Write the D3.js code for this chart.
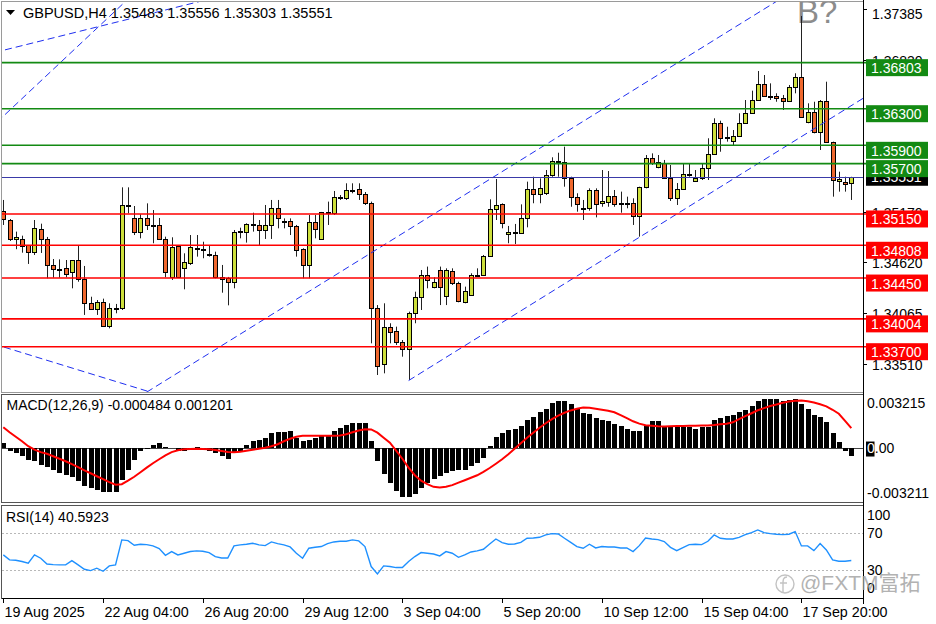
<!DOCTYPE html>
<html><head><meta charset="utf-8">
<script src="https://cdn.jsdelivr.net/npm/d3@7"></script>
<style>body{margin:0;background:#fff}svg{display:block;font-size:14px}text{font-family:"Liberation Sans",Arial,sans-serif}</style>
</head><body><svg id="c" width="936" height="624"></svg>
<script>
// ---------- DATA ----------
const symbolTitle = "GBPUSD,H4";
const headerOHLC = ["1.35483","1.35556","1.35303","1.35551"];
const dateTickBars = [0,16,32,48,64,80,96,112,128];
const dateLabels = ["19 Aug 2025","22 Aug 04:00","26 Aug 20:00","29 Aug 12:00","3 Sep 04:00","5 Sep 20:00","10 Sep 12:00","15 Sep 04:00","17 Sep 20:00"];
const priceTicks = [1.37385,1.36830,1.35170,1.34620,1.34065,1.33510];
const resistanceLevels = [1.36803,1.36300,1.35900,1.35700];
const supportLevels = [1.35150,1.34808,1.34450,1.34004,1.33700];
const lastPrice = 1.35551;
const macdTickLabels = ["0.003215","0.00","-0.003211"];
const rsiTicks = [100,70,30,0];
const rsiLevels = [70,30];

const opens = [1.35182,1.35084,1.34874,1.34877,1.34808,1.34732,1.34989,1.34877,1.34596,1.34549,
1.34560,1.34513,1.34647,1.34443,1.34181,1.34109,1.34188,1.33926,1.34123,1.34119,
1.35248,1.35102,1.34957,1.35102,1.35030,1.35030,1.34873,1.34465,1.34801,1.34556,
1.34618,1.34775,1.34768,1.34708,1.34699,1.34465,1.34451,1.34404,1.34957,1.34957,
1.35041,1.35033,1.34975,1.35030,1.35212,1.35066,1.35073,1.35019,1.34764,1.34589,
1.35066,1.34873,1.35168,1.35164,1.35328,1.35321,1.35412,1.35420,1.35368,1.35267,
1.34119,1.33508,1.33919,1.33868,1.33748,1.33675,1.34065,1.34240,1.34484,1.34349,
1.34538,1.34254,1.34530,1.34393,1.34192,1.34265,1.34484,1.34484,1.34691,1.35201,
1.35255,1.34928,1.34950,1.34946,1.35109,1.35420,1.35365,1.35382,1.35575,1.35732,
1.35721,1.35540,1.35332,1.35212,1.35212,1.35412,1.35267,1.35284,1.35346,1.35267,
1.35267,1.35267,1.35131,1.35441,1.35765,1.35666,1.35712,1.35546,1.35319,1.35420,
1.35590,1.35513,1.35540,1.35656,1.35805,1.36141,1.35988,1.35950,1.36002,1.36141,
1.36250,1.36395,1.36567,1.36442,1.36435,1.36414,1.36387,1.36534,1.36643,1.36151,
1.36261,1.36049,1.36387,1.35933,1.35513,1.35496,1.35483];
const highs = [1.35303,1.35095,1.34957,1.34913,1.34811,1.35084,1.35044,1.34899,1.34658,1.34654,
1.34647,1.34647,1.34811,1.34582,1.34246,1.34210,1.34225,1.34174,1.34167,1.35441,
1.35441,1.35237,1.35146,1.35266,1.35193,1.35106,1.34902,1.34895,1.34811,1.34720,
1.34920,1.34920,1.34847,1.34811,1.34738,1.34593,1.34462,1.34975,1.35000,1.35048,
1.35164,1.35084,1.35248,1.35303,1.35303,1.35102,1.35102,1.35030,1.34775,1.35139,
1.35139,1.35172,1.35285,1.35401,1.35357,1.35485,1.35485,1.35485,1.35390,1.35285,
1.34155,1.34174,1.33956,1.33919,1.33773,1.34083,1.34301,1.34538,1.34575,1.34458,
1.34575,1.34556,1.34556,1.34410,1.34356,1.34502,1.34556,1.34702,1.35310,1.35532,
1.35266,1.35019,1.35041,1.35255,1.35503,1.35557,1.35539,1.35630,1.35769,1.35819,
1.35885,1.35557,1.35376,1.35303,1.35430,1.35430,1.35630,1.35619,1.35412,1.35394,
1.35339,1.35321,1.35448,1.35794,1.35812,1.35794,1.35740,1.35685,1.35488,1.35696,
1.35704,1.35630,1.35704,1.35977,1.36195,1.36169,1.36103,1.36067,1.36250,1.36395,
1.36497,1.36712,1.36668,1.36577,1.36468,1.36450,1.36559,1.36687,1.37313,1.36359,
1.36376,1.36395,1.36595,1.35940,1.35612,1.35557,1.35556];
const lows = [1.35030,1.34855,1.34765,1.34727,1.34604,1.34702,1.34724,1.34447,1.34454,1.34454,
1.34458,1.34338,1.34410,1.34047,1.34101,1.34047,1.33915,1.33901,1.34065,1.34101,
1.35157,1.34920,1.34884,1.34975,1.34830,1.34866,1.34458,1.34429,1.34451,1.34327,
1.34593,1.34684,1.34666,1.34684,1.34447,1.34290,1.34152,1.34338,1.34884,1.34837,
1.34957,1.34811,1.34877,1.34877,1.34993,1.34993,1.34920,1.34684,1.34447,1.34447,
1.34884,1.34871,1.35030,1.35139,1.35303,1.35303,1.35376,1.35303,1.35248,1.33737,
1.33391,1.33409,1.33737,1.33719,1.33591,1.33336,1.33956,1.34101,1.34338,1.34338,
1.34155,1.34155,1.34374,1.34185,1.34174,1.34254,1.34472,1.34472,1.34680,1.35084,
1.34993,1.34830,1.34822,1.34946,1.35004,1.35267,1.35267,1.35357,1.35557,1.35557,
1.35448,1.35229,1.35175,1.35084,1.35186,1.35113,1.35229,1.35229,1.35229,1.35164,
1.35212,1.35030,1.34902,1.35430,1.35685,1.35649,1.35540,1.35292,1.35248,1.35412,
1.35557,1.35503,1.35521,1.35521,1.35794,1.35830,1.35940,1.35903,1.35994,1.36133,
1.36242,1.36387,1.36431,1.36395,1.36376,1.36286,1.36376,1.36468,1.36213,1.36141,
1.36031,1.35849,1.35929,1.35339,1.35394,1.35394,1.35303];
const closes = [1.35092,1.34880,1.34899,1.34801,1.34732,1.34994,1.34877,1.34596,1.34546,1.34543,
1.34498,1.34647,1.34443,1.34181,1.34109,1.34188,1.33926,1.34123,1.34119,1.35248,
1.35252,1.34950,1.35102,1.35030,1.35026,1.34873,1.34513,1.34793,1.34465,1.34625,
1.34786,1.34764,1.34764,1.34705,1.34465,1.34437,1.34404,1.34957,1.34961,1.35041,
1.35037,1.34975,1.35030,1.35212,1.35102,1.35068,1.35019,1.34757,1.34589,1.35066,
1.34983,1.35168,1.35172,1.35339,1.35332,1.35412,1.35409,1.35368,1.35267,1.34119,
1.33493,1.33919,1.33857,1.33748,1.33675,1.34065,1.34240,1.34484,1.34429,1.34410,
1.34349,1.34538,1.34393,1.34199,1.34312,1.34484,1.34480,1.34691,1.35204,1.35248,
1.35048,1.34950,1.34953,1.35109,1.35420,1.35365,1.35430,1.35575,1.35732,1.35734,
1.35540,1.35332,1.35255,1.35210,1.35412,1.35259,1.35295,1.35346,1.35259,1.35264,
1.35264,1.35131,1.35441,1.35765,1.35710,1.35718,1.35546,1.35319,1.35420,1.35587,
1.35588,1.35540,1.35656,1.35805,1.36141,1.35977,1.35985,1.36002,1.36147,1.36256,
1.36395,1.36567,1.36442,1.36440,1.36414,1.36387,1.36534,1.36643,1.36213,1.36261,
1.36049,1.36387,1.35940,1.35521,1.35532,1.35474,1.35551];

const macdHist = [0.00030,-0.00020,-0.00030,-0.00050,-0.00071,-0.00081,-0.00101,-0.00115,-0.00135,-0.00152,
-0.00162,-0.00176,-0.00202,-0.00232,-0.00242,-0.00253,-0.00268,-0.00268,-0.00268,-0.00192,
-0.00132,-0.00071,-0.00020,-0.00006,0.00020,0.00030,0.00006,-0.00002,-0.00020,-0.00020,
-0.00014,0.00006,-0.00010,-0.00020,-0.00030,-0.00050,-0.00067,-0.00030,-0.00020,0.00020,
0.00041,0.00050,0.00061,0.00091,0.00097,0.00097,0.00101,0.00061,0.00040,0.00050,
0.00061,0.00070,0.00070,0.00105,0.00121,0.00137,0.00149,0.00152,0.00149,0.00044,
-0.00081,-0.00156,-0.00210,-0.00263,-0.00297,-0.00297,-0.00277,-0.00242,-0.00212,-0.00186,
-0.00168,-0.00152,-0.00138,-0.00132,-0.00132,-0.00107,-0.00091,-0.00061,0.00014,0.00064,
0.00091,0.00111,0.00117,0.00131,0.00171,0.00191,0.00218,0.00236,0.00273,0.00288,
0.00287,0.00267,0.00238,0.00212,0.00206,0.00185,0.00171,0.00161,0.00145,0.00131,
0.00117,0.00101,0.00105,0.00141,0.00165,0.00161,0.00131,0.00125,0.00125,0.00125,
0.00125,0.00117,0.00125,0.00125,0.00171,0.00185,0.00196,0.00202,0.00216,0.00232,
0.00256,0.00287,0.00297,0.00297,0.00297,0.00285,0.00293,0.00297,0.00267,0.00239,
0.00202,0.00191,0.00155,0.00091,0.00034,-0.00021,-0.000484];
const macdSignal = [0.00126,0.00096,0.00068,0.00041,0.00011,-0.00010,-0.00025,-0.00035,-0.00050,-0.00065,
-0.00080,-0.00098,-0.00116,-0.00135,-0.00153,-0.00171,-0.00189,-0.00207,-0.00222,-0.00219,
-0.00198,-0.00174,-0.00147,-0.00119,-0.00092,-0.00068,-0.00044,-0.00025,-0.00013,-0.00008,
-0.00006,-0.00004,-0.00006,-0.00008,-0.00012,-0.00018,-0.00024,-0.00025,-0.00022,-0.00016,
-0.00010,-0.00004,0.00002,0.00011,0.00023,0.00041,0.00056,0.00068,0.00075,0.00075,
0.00075,0.00075,0.00075,0.00075,0.00076,0.00084,0.00096,0.00106,0.00114,0.00113,
0.00093,0.00062,0.00032,-0.00016,-0.00065,-0.00119,-0.00165,-0.00198,-0.00219,-0.00235,
-0.00239,-0.00235,-0.00225,-0.00210,-0.00195,-0.00180,-0.00165,-0.00144,-0.00121,-0.00095,
-0.00068,-0.00038,-0.00004,0.00029,0.00062,0.00093,0.00123,0.00150,0.00175,0.00196,
0.00214,0.00228,0.00238,0.00246,0.00244,0.00238,0.00232,0.00226,0.00217,0.00199,
0.00181,0.00162,0.00148,0.00138,0.00135,0.00132,0.00131,0.00132,0.00133,0.00134,
0.00135,0.00135,0.00136,0.00137,0.00140,0.00144,0.00147,0.00156,0.00175,0.00193,
0.00211,0.00229,0.00242,0.00255,0.00264,0.00275,0.00282,0.00287,0.00288,0.00284,
0.00276,0.00265,0.00253,0.00232,0.00208,0.00165,0.001201];
const rsiValues = [46.6,41.2,40.8,39.4,37.6,46.6,43.0,36.8,36.1,35.8,
35.8,40.4,35.8,31.1,29.6,32.2,28.9,34.7,35.8,62.8,
62.0,57.0,58.1,57.7,56.3,53.4,46.2,50.2,46.6,48.4,
50.2,50.9,50.5,49.1,44.8,43.3,43.3,56.3,57.4,58.1,
59.2,57.4,56.6,60.6,58.8,57.4,55.2,48.4,43.0,53.8,
54.8,55.6,58.8,60.6,61.3,61.3,62.8,61.7,55.6,34.0,
26.0,34.7,34.0,32.9,32.9,39.4,44.8,49.1,48.4,47.6,
45.5,50.2,48.4,44.0,46.6,49.8,50.9,52.7,58.4,63.8,
59.9,58.1,58.4,60.2,64.6,64.9,65.6,68.2,69.6,69.2,
64.6,60.2,55.6,53.8,58.1,54.1,55.6,55.2,55.2,54.1,
54.1,50.2,56.6,64.9,63.8,63.1,61.0,54.8,51.2,54.5,
57.7,58.1,57.7,61.3,68.2,64.6,63.8,63.8,65.6,68.5,
70.7,73.6,70.7,69.6,68.9,68.5,68.9,71.8,56.3,56.3,
51.2,58.8,52.0,41.2,39.7,39.7,40.5923];
const macdTitle = "MACD(12,26,9) -0.000484 0.001201";
const rsiTitle = "RSI(14) 40.5923";
// trend lines: two anchors [bar index, price]
const trendA = [[0,1.36218],[16,1.37242]];
const trendB = [[0,1.36938],[16,1.37209]];
const trendC = [[32,1.33584],[112,1.36965]];
const trendD = [[65,1.33330],[128,1.35995]];
const trendE = [[0,1.33698],[16,1.33363]];
const watermark = "@FXTM富拓";
const annotation = "B?";

// ---------- LAYOUT ----------
const svg = d3.select("#c");
const L = 2, R = 863.5;
const mainTop = 2, mainBot = 392;
const macdTop = 395, macdBot = 502;
const rsiTop = 505.5, rsiBot = 598;
const n = opens.length;
const x = d3.scaleLinear().domain([0, n-1]).range([3.3, 851.3]);
const y = d3.scaleLinear().domain([1.3370, 1.3630]).range([346.7, 108.7]);
const yM = d3.scaleLinear().domain([-0.003211, 0.003215]).range([501, 395]);
const yR = d3.scaleLinear().domain([0, 100]).range([rsiBot, rsiTop]);
const bullC = "#cddf3c", bearC = "#ef682e";
const greenC = "#138a13", redC = "#ff0000";

svg.append("rect").attr("width",936).attr("height",624).attr("fill","#fff");
const defs = svg.append("defs");
defs.append("clipPath").attr("id","clipMain").append("rect").attr("x",L).attr("y",mainTop).attr("width",R-0.5-L).attr("height",mainBot-mainTop);
defs.append("clipPath").attr("id","clipMacd").append("rect").attr("x",L).attr("y",macdTop).attr("width",R-0.5-L).attr("height",macdBot-macdTop);
defs.append("clipPath").attr("id","clipRsi").append("rect").attr("x",L).attr("y",rsiTop).attr("width",R-0.5-L).attr("height",rsiBot-rsiTop);

const bars = d3.range(n).map(i => ({i, o:opens[i], h:highs[i], l:lows[i], c:closes[i]}));
const px = i => Math.round(x(i)) + 0.5;

// ---------- MAIN PANEL ----------
const gMain = svg.append("g").attr("clip-path","url(#clipMain)");
gMain.append("text").attr("x",797).attr("y",23).style("font-size","33px").attr("fill","#8c8c8c").text(annotation);
gMain.selectAll("line.wick").data(bars).join("line").attr("class","wick")
  .attr("x1",d=>px(d.i)).attr("x2",d=>px(d.i))
  .attr("y1",d=>y(d.h)).attr("y2",d=>y(d.l)).attr("stroke","#222").attr("stroke-width",1);
gMain.selectAll("rect.body").data(bars).join("rect").attr("class","body")
  .attr("x",d=>px(d.i)-2).attr("width",4)
  .attr("y",d=>Math.round(y(Math.max(d.o,d.c)))+0.5)
  .attr("height",d=>Math.max(1, Math.round(y(Math.min(d.o,d.c))) - Math.round(y(Math.max(d.o,d.c)))))
  .attr("fill",d=>d.c>=d.o?bullC:bearC).attr("stroke","#000").attr("stroke-width",1)
  .attr("shape-rendering","crispEdges");

function extLine(anchors, ray){
  const [a,b] = anchors; const s = (b[1]-a[1])/(b[0]-a[0]);
  const i0 = ray==="right" ? a[0] : -10, i1 = n+10;
  return [[x(i0), y(a[1]+s*(i0-a[0]))],[x(i1), y(a[1]+s*(i1-a[0]))]];
}
[[trendA,"both"],[trendB,"both"],[trendC,"both"],[trendD,"right"],[trendE,"both"]].forEach(([t,r])=>{
  const p = extLine(t,r);
  gMain.append("line").attr("x1",p[0][0]).attr("y1",p[0][1]).attr("x2",p[1][0]).attr("y2",p[1][1])
    .attr("stroke","#1f2ff0").attr("stroke-width",1).attr("stroke-dasharray","7,4");
});
svg.append("line").attr("x1",L).attr("x2",R).attr("y1",Math.round(y(lastPrice))+0.5).attr("y2",Math.round(y(lastPrice))+0.5)
  .attr("stroke","#3a3aa8").attr("stroke-width",1);
resistanceLevels.forEach(v=>{
  svg.append("line").attr("x1",L).attr("x2",867).attr("y1",y(v)).attr("y2",y(v)).attr("stroke",greenC).attr("stroke-width",1.6);
});
supportLevels.forEach(v=>{
  svg.append("line").attr("x1",L).attr("x2",867).attr("y1",y(v)).attr("y2",y(v)).attr("stroke",redC).attr("stroke-width",1.6);
});

// price axis ticks/labels
priceTicks.forEach(v=>{
  const yy = y(v);
  svg.append("line").attr("x1",863).attr("x2",867).attr("y1",Math.round(yy)+0.5).attr("y2",Math.round(yy)+0.5).attr("stroke","#000");
  svg.append("text").attr("x",872).attr("y",Math.max(yy+5.5,19)).attr("fill","#000").text(v.toFixed(5));
});
{
  const yy = y(lastPrice);
  svg.append("rect").attr("x",866).attr("y",yy-8.5).attr("width",62).attr("height",17).attr("fill","#000");
  svg.append("text").attr("x",871).attr("y",yy+5).attr("fill","#fff").text(lastPrice.toFixed(5));
}
function levelLabel(v,col){
  const yy = y(v);
  svg.append("rect").attr("x",866).attr("y",yy-3.5).attr("width",62).attr("height",17).attr("fill",col);
  svg.append("text").attr("x",871).attr("y",yy+10.5).attr("fill","#fff").text(v.toFixed(5));
}
resistanceLevels.forEach(v=>levelLabel(v,"#138a13"));
supportLevels.forEach(v=>levelLabel(v,"#ff0000"));

// header
svg.append("path").attr("d","M6,10 L15,10 L10.5,15 Z").attr("fill","#000");
svg.append("text").attr("x",23).attr("y",18.3).style("font-size","14.5px").attr("fill","#000").text(symbolTitle + " " + headerOHLC.join(" "));

// ---------- MACD PANEL ----------
const gM = svg.append("g").attr("clip-path","url(#clipMacd)");
gM.append("line").attr("x1",L).attr("x2",R).attr("y1",Math.round(yM(0))+0.5).attr("y2",Math.round(yM(0))+0.5).attr("stroke","#444");
gM.selectAll("rect.h").data(macdHist).join("rect").attr("class","h")
  .attr("x",(d,i)=>Math.round(x(i))-2).attr("width",5)
  .attr("y",d=>Math.min(yM(d),yM(0))).attr("height",d=>Math.abs(yM(d)-yM(0)))
  .attr("fill","#000").attr("shape-rendering","crispEdges");
gM.append("path").datum(macdSignal)
  .attr("d",d3.line().x((d,i)=>x(i)).y(d=>yM(d)))
  .attr("fill","none").attr("stroke","#ff0000").attr("stroke-width",2);
svg.append("text").attr("x",6.5).attr("y",409.5).attr("fill","#000").text(macdTitle);
svg.append("text").attr("x",867).attr("y",408.3).attr("fill","#000").text(macdTickLabels[0]);
svg.append("rect").attr("x",866).attr("y",yM(0)-6.5).attr("width",8.5).attr("height",15).attr("fill","#000");
svg.append("text").attr("x",867).attr("y",yM(0)+5).attr("fill","#000")
  .call(t=>{t.append("tspan").attr("fill","#fff").text("0");t.append("tspan").text(".00");});
svg.append("text").attr("x",867).attr("y",498).attr("fill","#000").text(macdTickLabels[2]);

// ---------- RSI PANEL ----------
const gR = svg.append("g").attr("clip-path","url(#clipRsi)");
rsiLevels.forEach(v=>{
  gR.append("line").attr("x1",L).attr("x2",R).attr("y1",Math.round(yR(v))+0.5).attr("y2",Math.round(yR(v))+0.5)
    .attr("stroke","#b8b8b8").attr("stroke-dasharray","2,2");
});
gR.append("path").datum(rsiValues)
  .attr("d",d3.line().x((d,i)=>x(i)).y(d=>yR(d)))
  .attr("fill","none").attr("stroke","#1e90ff").attr("stroke-width",1.4);
svg.append("text").attr("x",6).attr("y",521.5).attr("fill","#000").text(rsiTitle);
const rsiLabelY = {100:519.5, 70:538, 30:575, 0:593};
rsiTicks.forEach(v=>{
  svg.append("text").attr("x",867).attr("y",rsiLabelY[v]).attr("fill","#000").text(String(v));
});

// ---------- FRAMES ----------
const fr = (y0,y1,col)=>svg.append("rect").attr("x",1.5).attr("y",y0).attr("width",R-1.5).attr("height",y1-y0)
  .attr("fill","none").attr("stroke",col).attr("shape-rendering","crispEdges");
fr(1.5,392.5,"#9a9a9a");
fr(394.5,502.5,"#555");
fr(505.5,598.5,"#555");
svg.append("line").attr("x1",R).attr("x2",R).attr("y1",0).attr("y2",604).attr("stroke","#000").attr("shape-rendering","crispEdges");
svg.append("line").attr("x1",1.5).attr("x2",R).attr("y1",598.5).attr("y2",598.5).attr("stroke","#000").attr("shape-rendering","crispEdges");

// ---------- TIME AXIS ----------
dateTickBars.forEach((b,k)=>{
  const xx = px(b);
  svg.append("line").attr("x1",xx).attr("x2",xx).attr("y1",598).attr("y2",603).attr("stroke","#000");
  svg.append("text").attr("x",xx+1).attr("y",616.5).style("font-size","14.3px").attr("fill","#000").text(dateLabels[k]);
});

// ---------- WATERMARK ----------
const wm = svg.append("g").attr("opacity",0.8);
wm.append("circle").attr("cx",785).attr("cy",584).attr("r",9).attr("fill","none").attr("stroke","#b5b5b5").attr("stroke-width",1.4);
wm.append("path").attr("d","M787,577 C783,577 783,580 783,584 L783,592 M780,583 L787,583").attr("fill","none").attr("stroke","#b5b5b5").attr("stroke-width",1.4);
wm.append("text").attr("x",800).attr("y",590).style("font-size","21px").attr("fill","#a0a0a0")
  .style("font-family","'Liberation Sans','Noto Sans CJK SC',sans-serif").text(watermark);
</script></body></html>
